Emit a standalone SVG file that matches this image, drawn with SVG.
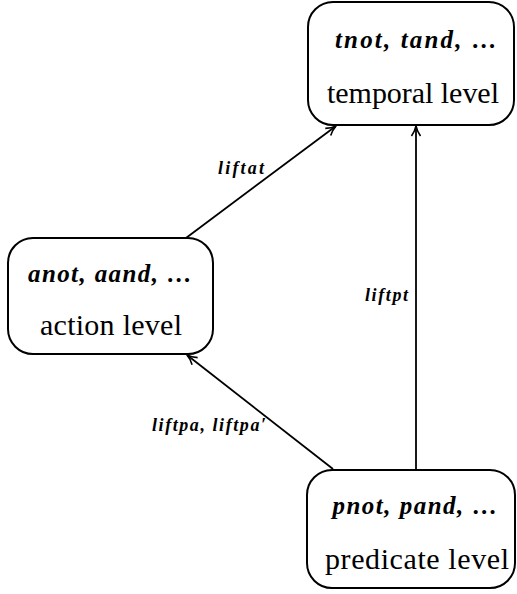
<svg xmlns="http://www.w3.org/2000/svg" width="517" height="594" viewBox="0 0 517 594">
<style>
.box{fill:#fff;stroke:#000;stroke-width:2}
.ops{font-family:"Liberation Serif",serif;font-style:italic;font-weight:bold;font-size:25px;text-anchor:middle}
.lvl{font-family:"Liberation Serif",serif;font-size:30px;text-anchor:middle}
.lab{font-family:"Liberation Serif",serif;font-style:italic;font-weight:bold;font-size:18px}
.edge{fill:none;stroke:#000;stroke-width:1.8}
</style>
<defs>
<marker id="arr" viewBox="0 0 12 12" refX="11" refY="6" markerWidth="12" markerHeight="12" markerUnits="userSpaceOnUse" orient="auto">
<path d="M1,1.5 Q6,5 11,6 Q6,7 1,10.5" fill="none" stroke="#000" stroke-width="1.6"/>
</marker>
</defs>
<rect width="517" height="594" fill="#fff"/>
<g id="connectors">
<line class="edge" x1="186" y1="238" x2="336" y2="126" marker-end="url(#arr)"/>
<line class="edge" x1="416" y1="470" x2="416" y2="126" marker-end="url(#arr)"/>
<line class="edge" x1="333" y1="469" x2="187" y2="355" marker-end="url(#arr)"/>
<text class="lab" x="218" y="174" textLength="46" lengthAdjust="spacing">liftat</text>
<text class="lab" x="365" y="301" textLength="43" lengthAdjust="spacing">liftpt</text>
<text class="lab" x="152" y="431" textLength="114" lengthAdjust="spacing">liftpa, liftpa′</text>
</g>
<g id="temporal">
<rect class="box" x="308" y="2" width="206" height="123" rx="25"/>
<text class="ops" x="416" y="48" textLength="162" lengthAdjust="spacing">tnot, tand, …</text>
<text class="lvl" x="413" y="103" textLength="172" lengthAdjust="spacing">temporal level</text>
</g>
<g id="action">
<rect class="box" x="8" y="238" width="205" height="116" rx="25"/>
<text class="ops" x="110" y="282" textLength="164" lengthAdjust="spacing">anot, aand, …</text>
<text class="lvl" x="111" y="335" textLength="142" lengthAdjust="spacing">action level</text>
</g>
<g id="predicate">
<rect class="box" x="307" y="470" width="208" height="118" rx="25"/>
<text class="ops" x="415" y="514" textLength="165" lengthAdjust="spacing">pnot, pand, …</text>
<text class="lvl" x="417" y="569" textLength="184" lengthAdjust="spacing">predicate level</text>
</g>
</svg>
